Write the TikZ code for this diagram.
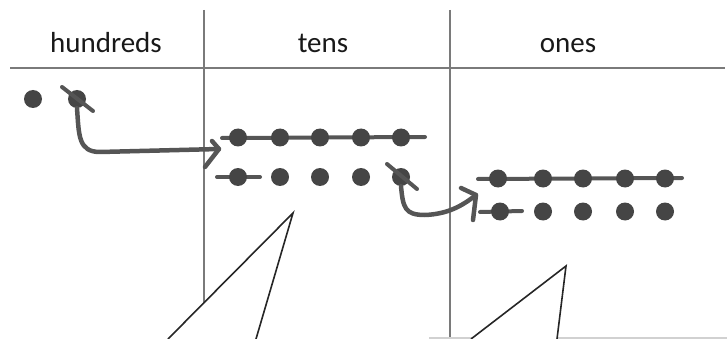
\documentclass[tikz,border=0pt]{standalone}
\usepackage{fontspec}
\setmainfont{Carlito}
\definecolor{dotc}{HTML}{454545}
\definecolor{strokec}{HTML}{555555}
\definecolor{rulec}{HTML}{7A7A7A}
\tikzset{
  dot/.style={circle,fill=dotc,inner sep=0pt,minimum size=18pt},
  mark line/.style={draw=strokec,line width=4pt,line cap=round},
  arrow line/.style={draw=strokec,line width=4.5pt,line cap=round,line join=round},
  rule/.style={draw=rulec,line width=1.1pt},
  tail/.style={draw=black!85,line width=1.6pt,fill=white,line join=miter},
  head/.style={font=\fontsize{29}{31}\selectfont,text=black!90,inner sep=0pt,anchor=base}
}
\begin{document}
\begin{tikzpicture}[x=1pt,y=-1pt]
\useasboundingbox (0,0) rectangle (727,339);
% table rules
\coordinate (v1t) at (204,10); \coordinate (v1b) at (204,339);
\coordinate (v2t) at (450,10); \coordinate (v2b) at (450,339);
\coordinate (hl) at (10,68); \coordinate (hr) at (725,68);
\draw[rule] (v1t) -- (v1b);
\draw[rule] (v2t) -- (v2b);
\draw[rule] (hl) -- (hr);
% headers
\node[head] (th) at (106,53) {hundreds};
\node[head] (tt) at (323,53) {tens};
\node[head] (to) at (568,53) {ones};
% hundreds dots
\node[dot] (h1) at (33,99) {};
\node[dot] (h2) at (77,99) {};
\coordinate (h2a) at (62,87); \coordinate (h2b) at (93,111);
\draw[mark line] (h2a) -- (h2b);
% tens row 1
\coordinate (t1l) at (222,138); \coordinate (t1r) at (425,137);
\draw[mark line] (t1l) -- (t1r);
\foreach \x [count=\i] in {238,280,320,361,401} {\node[dot] (ta\i) at (\x,137.5) {};}
% tens row 2
\coordinate (t2l) at (217,177); \coordinate (t2r) at (260,177);
\draw[mark line] (t2l) -- (t2r);
\foreach \x [count=\i] in {238,280,320,361,401} {\node[dot] (tb\i) at (\x,177) {};}
\coordinate (tca) at (387,164); \coordinate (tcb) at (417,189);
\draw[mark line] (tca) -- (tcb);
% ones row 1
\coordinate (o1l) at (478,179); \coordinate (o1r) at (682,178);
\draw[mark line] (o1l) -- (o1r);
\foreach \x [count=\i] in {498,543,583,625,665} {\node[dot] (oa\i) at (\x,178.5) {};}
% ones row 2
\coordinate (o2l) at (480,212); \coordinate (o2r) at (522,211);
\draw[mark line] (o2l) -- (o2r);
\foreach \x [count=\i] in {500,543,583,625,665} {\node[dot] (ob\i) at (\x,211.5) {};}
% arrow 1
\coordinate (a1e) at (219,149);
\coordinate (a1u) at (212,141); \coordinate (a1d) at (205,167);
\draw[arrow line] (h2.south) .. controls (79,135) and (78,152) .. (100,152) -- (a1e);
\draw[arrow line] (a1u) -- (a1e) -- (a1d);
% arrow 2
\coordinate (a2e) at (476,195);
\coordinate (a2u) at (461,188); \coordinate (a2d) at (473,220);
\draw[arrow line] (tb5.south) .. controls (403,208) and (405,215) .. (425,215) .. controls (448,214) and (462,206) .. (a2e);
\draw[arrow line] (a2u) -- (a2e) -- (a2d);
% bubble edge
\coordinate (bl) at (429,338); \coordinate (br) at (727,338);
\draw[draw=black!18,line width=2pt] (bl) -- (br);
% speech bubble tails
\coordinate (p1) at (168,339); \coordinate (p2) at (293,213); \coordinate (p3) at (256,339);
\fill[white] (p1) -- (p2) -- (p3) -- cycle;
\draw[tail] (p1) -- (p2) -- (p3);
\coordinate (q1) at (471,339); \coordinate (q2) at (566,266); \coordinate (q3) at (557,339);
\fill[white] (q1) -- (q2) -- (q3) -- cycle;
\draw[tail] (q1) -- (q2) -- (q3);
\end{tikzpicture}
\end{document}
